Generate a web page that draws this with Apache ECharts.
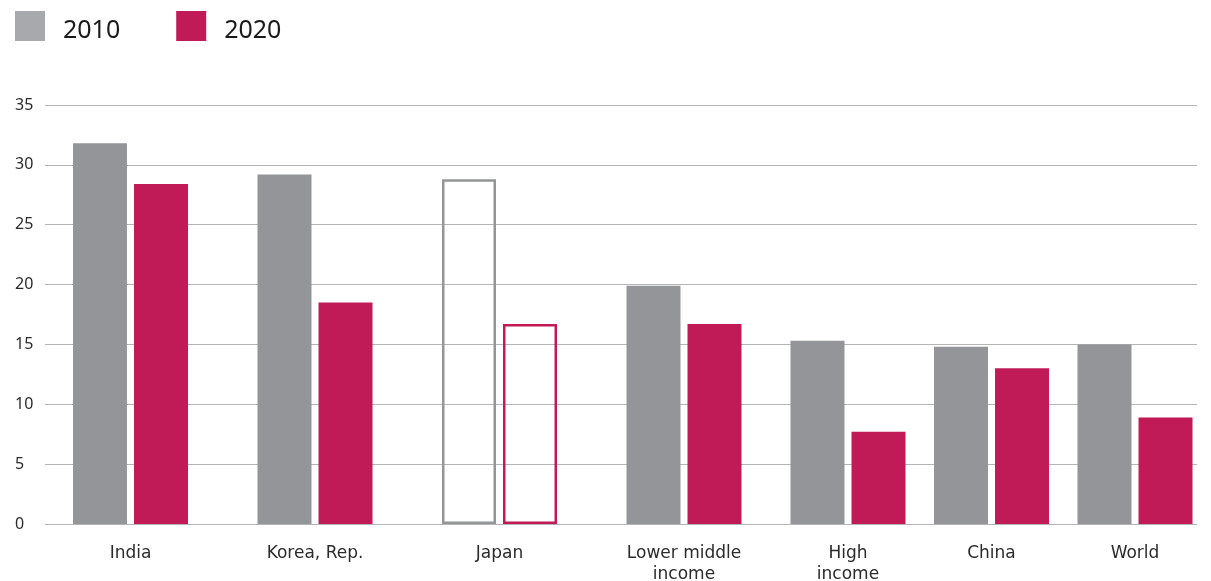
<!DOCTYPE html>
<html>
<head>
<meta charset="utf-8">
<script src="https://cdn.jsdelivr.net/npm/echarts@6/dist/echarts.min.js"></script>
<style>
  html, body { margin: 0; padding: 0; background: #ffffff; }
  #chart { width: 1211px; height: 581px; }
</style>
</head>
<body>
<div id="chart"></div>
<script>
// Data
const categories = ['India', 'Korea, Rep.', 'Japan', 'Lower middle\nincome', 'High\nincome', 'China', 'World'];
const values2010 = [31.8, 29.2, 28.8, 19.9, 15.3, 14.8, 15.0];
const values2020 = [28.4, 18.5, 16.7, 16.7, 7.7, 13.0, 8.9];
const hollowCategories = ['Japan'];
const yTicks = { min: 0, max: 35, interval: 5 };

// Layout: category spacing on a fine slot grid (in slots between neighbours)
const slotSteps = [9, 9, 9, 8, 7, 7];

const GRAY = '#939598';
const GRAY_LEGEND = '#A7A9AC';
const CRIMSON = '#C01B57';
const FONT = 'Noto Sans';
const LABEL_FONT = 'DejaVu Sans';

// Expand the categories onto the slot grid, leaving empty slots in between
const slotLabels = [];
const slotIndex = [];
categories.forEach((name, i) => {
  slotIndex.push(slotLabels.length);
  slotLabels.push(name);
  const step = slotSteps[i];
  if (step) for (let k = 1; k < step; k++) slotLabels.push('');
});

function spread(values, color) {
  const out = slotLabels.map(() => '-');
  values.forEach((v, i) => {
    if (hollowCategories.includes(categories[i])) {
      out[slotIndex[i]] = {
        value: v,
        itemStyle: { color: 'rgba(0,0,0,0)', borderColor: color, borderWidth: 2.5 }
      };
    } else {
      out[slotIndex[i]] = v;
    }
  });
  return out;
}

const chart = echarts.init(document.getElementById('chart'), null, { renderer: 'canvas' });

chart.setOption({
  animation: false,
  backgroundColor: '#ffffff',
  textStyle: { fontFamily: FONT },
  legend: {
    left: 15,
    top: 11,
    padding: 0,
    icon: 'rect',
    itemWidth: 30,
    itemHeight: 30,
    itemGap: 56,
    formatter: '{t|{name}}',
    textStyle: {
      fontSize: 25,
      color: '#1a1a1a',
      fontFamily: FONT,
      rich: {
        t: { fontSize: 25, color: '#1a1a1a', fontFamily: FONT, padding: [10, 0, 0, 13] }
      }
    },
    data: [
      { name: '2010', itemStyle: { color: GRAY_LEGEND } },
      { name: '2020', itemStyle: { color: CRIMSON } }
    ]
  },
  grid: [
    // full-width grid carrying the value axis and gridlines
    { left: 45, right: 14, top: 105, bottom: 57, outerBoundsMode: 'none', containLabel: false },
    // grid for the bars
    { left: 120.25, right: 65.75, top: 105, bottom: 57, outerBoundsMode: 'none', containLabel: false }
  ],
  xAxis: [
    { gridIndex: 0, type: 'value', show: false, min: 0, max: 1 },
    {
      gridIndex: 1,
      type: 'category',
      data: slotLabels,
      axisLine: { show: false },
      axisTick: { show: false },
      axisLabel: {
        interval: 0,
        color: '#2b2b2b',
        fontSize: 17,
        lineHeight: 21,
        margin: 19,
        fontFamily: LABEL_FONT
      }
    }
  ],
  yAxis: [
    {
      gridIndex: 0,
      type: 'value',
      min: yTicks.min,
      max: yTicks.max,
      interval: yTicks.interval,
      axisLine: { show: false },
      axisTick: { show: false },
      axisLabel: {
        align: 'left',
        margin: 30,
        color: '#2b2b2b',
        fontSize: 16,
        fontFamily: FONT
      },
      splitLine: { lineStyle: { color: '#b5b5b5', width: 1 } }
    },
    {
      gridIndex: 1,
      type: 'value',
      min: yTicks.min,
      max: yTicks.max,
      interval: yTicks.interval,
      show: false,
      splitLine: { show: false }
    }
  ],
  series: [
    {
      name: '2010',
      type: 'bar',
      xAxisIndex: 1,
      yAxisIndex: 1,
      clip: false,
      barWidth: 54,
      barGap: '13%',
      itemStyle: { color: GRAY },
      data: spread(values2010, GRAY)
    },
    {
      name: '2020',
      type: 'bar',
      xAxisIndex: 1,
      yAxisIndex: 1,
      clip: false,
      barWidth: 54,
      barGap: '13%',
      itemStyle: { color: CRIMSON },
      data: spread(values2020, CRIMSON)
    }
  ]
});
</script>
</body>
</html>
